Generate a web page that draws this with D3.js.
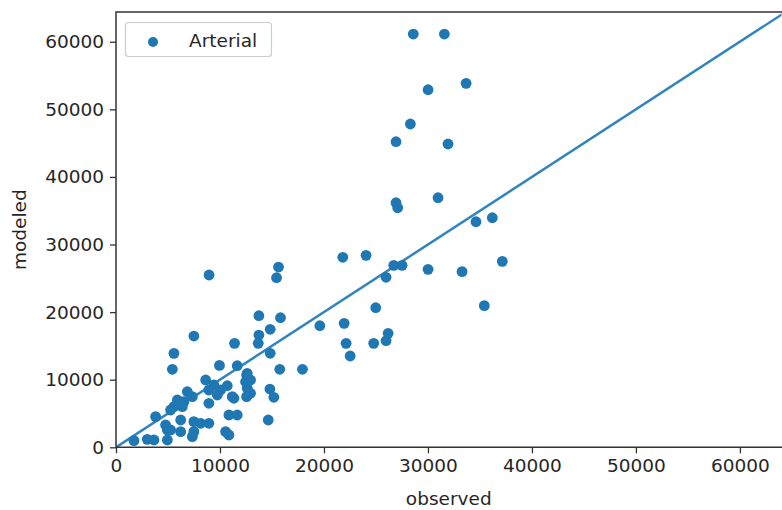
<!DOCTYPE html>
<meta charset="utf-8">
<style>
html, body { margin: 0; padding: 0; background: #fff; }
text { font-family: "DejaVu Sans", sans-serif; fill: #262626; }
</style>
<body>
<script src="https://d3js.org/d3.v7.min.js"></script>
<script>

var width = 782,
    height = 510;

// observed / modeled pairs
var observed = [28590, 31580, 33670, 30010, 28310, 26930, 31930, 26930, 27090, 30970,
  34620, 36190, 37150, 26710, 27510, 25970, 30010, 33280, 35420, 21810,
  24050, 15630, 15440, 24980, 13740, 15820, 19600, 21940, 14830, 13740,
  13680, 11400, 22130, 24780, 25970, 26170, 22520, 14830, 11660, 9950,
  15750, 17930, 12560, 12460, 12940, 12620, 12940, 12560, 10700, 10060,
  11180, 14800, 15180, 10860, 11660, 14640, 10540, 10860, 8950, 7490,
  5570, 5420, 8620, 9410, 8930, 9740, 8930, 6860, 7340, 6530,
  6380, 5900, 5570, 5250, 6220, 3810, 7490, 8140, 8930, 4770,
  4940, 6220, 7490, 7340, 3650, 4940, 1730, 3010, 12620, 11340,
  5250];
var modeled = [61140, 61140, 53850, 52900, 47830, 45210, 44870, 36180, 35440, 36920,
  33370, 33960, 27510, 26920, 26920, 25150, 26330, 25980, 20950, 28110,
  28400, 26670, 25090, 20650, 19470, 19170, 17990, 18340, 17460, 16610,
  15380, 15380, 15380, 15380, 15770, 16860, 13510, 13910, 12070, 12120,
  11540, 11540, 10700, 9700, 9960, 8730, 7990, 7490, 9110, 8480,
  7490, 8620, 7400, 4780, 4780, 4040, 2310, 1820, 25490, 16460,
  13900, 11540, 9960, 9220, 8480, 7740, 6510, 8220, 7490, 6750,
  6010, 7000, 6010, 5520, 4040, 4530, 3790, 3550, 3550, 3300,
  2560, 2310, 2310, 1570, 1080, 1080, 980, 1180, 10950, 7250,
  2560];

var xTicks = [0, 10000, 20000, 30000, 40000, 50000, 60000];
var yTicks = [0, 10000, 20000, 30000, 40000, 50000, 60000];
var seriesName = "Arterial";
var xMax = 64000, yMax = 64400;

var blue = "#1f77b4";
var plotLeft = 116, plotRight = 781.5, plotTop = 12, plotBottom = 447.3;

var svg = d3.select("body").append("svg")
  .attr("width", width)
  .attr("height", height);

var x = d3.scaleLinear().domain([0, xMax]).range([plotLeft, plotRight]);
var y = d3.scaleLinear().domain([0, yMax]).range([plotBottom, plotTop]);

svg.append("clipPath").attr("id", "plot")
  .append("rect")
  .attr("x", plotLeft).attr("y", plotTop)
  .attr("width", plotRight - plotLeft).attr("height", plotBottom - plotTop);

var points = d3.range(observed.length).map(function(i){
  return {o: observed[i], m: modeled[i]};
});

// 1:1 line
svg.append("line")
  .attr("clip-path", "url(#plot)")
  .attr("x1", x(0)).attr("y1", y(0))
  .attr("x2", x(yMax)).attr("y2", y(yMax))
  .attr("stroke", "#3284bf")
  .attr("stroke-width", 2.5);

svg.append("g")
  .attr("clip-path", "url(#plot)")
  .selectAll("circle")
  .data(points)
  .enter().append("circle")
  .attr("cx", function(d){ return x(d.o); })
  .attr("cy", function(d){ return y(d.m); })
  .attr("r", 5.4)
  .attr("fill", blue);

// axes
var xAxis = svg.append("g")
  .attr("transform", "translate(0," + plotBottom + ")")
  .call(d3.axisBottom(x).tickValues(xTicks).tickFormat(d3.format("d")).tickSize(6).tickPadding(6));
var yAxis = svg.append("g")
  .attr("transform", "translate(" + plotLeft + ",0)")
  .call(d3.axisLeft(y).tickValues(yTicks).tickFormat(d3.format("d")).tickSize(6).tickPadding(6));

[xAxis, yAxis].forEach(function(a){
  a.select(".domain").remove();
  a.selectAll(".tick line").attr("stroke", "#333").attr("stroke-width", 1.3);
  a.selectAll(".tick text").style("font-size", "18.5px").attr("fill", "#262626");
});

// spines
svg.append("path")
  .attr("d", "M" + (plotRight + 1) + "," + plotTop + "H" + plotLeft + "V" + plotBottom + "H" + (plotRight + 1))
  .attr("fill", "none")
  .attr("stroke", "#333")
  .attr("stroke-width", 1.5);

svg.append("text")
  .attr("x", (plotLeft + plotRight) / 2)
  .attr("y", 505)
  .attr("text-anchor", "middle")
  .style("font-size", "18.5px")
  .text("observed");

svg.append("text")
  .attr("transform", "translate(26," + ((plotTop + plotBottom) / 2) + ") rotate(-90)")
  .attr("text-anchor", "middle")
  .style("font-size", "18.5px")
  .text("modeled");

// legend
var legend = svg.append("g");
legend.append("rect")
  .attr("x", 125.5).attr("y", 22.5)
  .attr("width", 146).attr("height", 34)
  .attr("rx", 3)
  .attr("fill", "#fff").attr("fill-opacity", 0.8)
  .attr("stroke", "#ccc").attr("stroke-width", 1.2);
legend.append("circle")
  .attr("cx", 153).attr("cy", 42)
  .attr("r", 5)
  .attr("fill", blue);
legend.append("text")
  .attr("x", 189).attr("y", 46.5)
  .style("font-size", "18.5px")
  .text(seriesName);

</script>
</body>
